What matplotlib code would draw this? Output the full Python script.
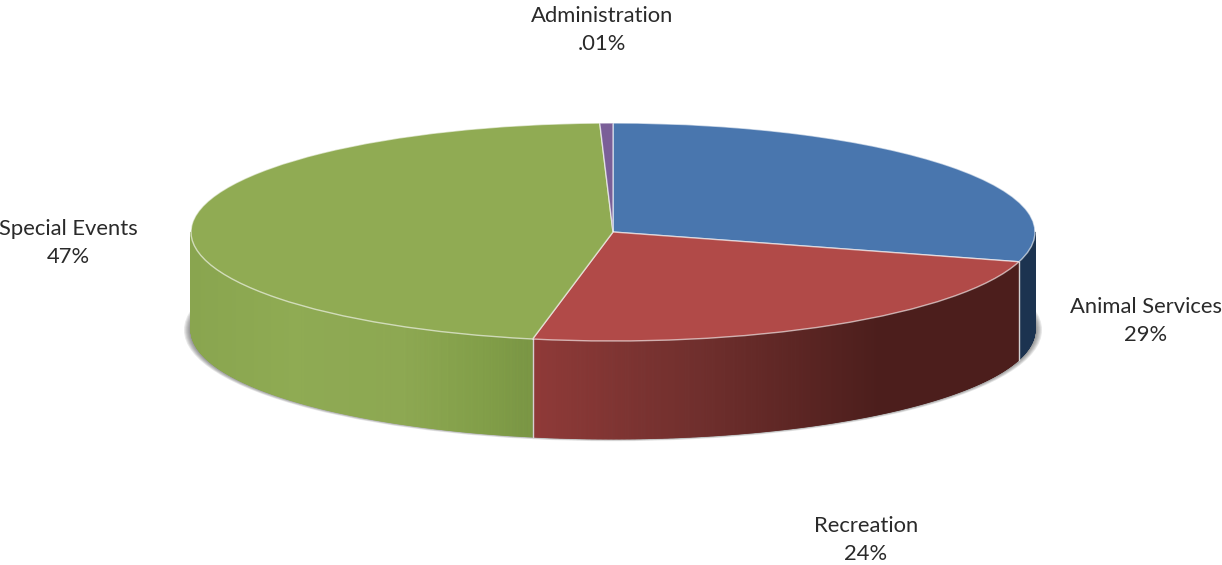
import numpy as np
import matplotlib
matplotlib.use("Agg")
import matplotlib.pyplot as plt
from matplotlib.collections import PolyCollection
from matplotlib.colors import to_rgb
from matplotlib.patches import Ellipse

# Data
categories = ["Animal Services", "Recreation", "Special Events", "Administration"]
slice_values = [29.4, 23.65, 46.45, 0.5]
value_labels = ["29%", "24%", "47%", ".01%"]
top_colors = ["#4976ae", "#b14a48", "#90ab53", "#7a5f98"]

# Side-wall shading stops: position across the pie (-1..1) -> colour
wall_stops = {
    "Animal Services": ([-1, 1], ["#1c3350", "#1c3350"]),
    "Recreation": ([-0.19, 0.2, 0.63, 1], ["#903a38", "#702f2d", "#4c1e1c", "#4c1e1c"]),
    "Special Events": ([-1, -0.75, -0.5, -0.3, -0.19], ["#89a54f", "#8fab53", "#8ea952", "#829f48", "#7a9644"]),
    "Administration": ([-1, 1], ["#5a4672", "#5a4672"]),
}
label_xy = {
    "Animal Services": (1146, 321),
    "Recreation": (866, 540),
    "Special Events": (68, 243),
    "Administration": (602, 30),
}

W, H = 1222, 565
CX, CY, RX, RY = 613, 232, 422, 109
DEPTH = 98 / RY

plt.rcParams["font.family"] = ["Lato", "DejaVu Sans"]
fig = plt.figure(figsize=(W / 100, H / 100), dpi=100, facecolor="white")
ax = fig.add_axes([0, 0, 1, 1])

# Soft shadow under the disc
n_sh = 9
for i in range(n_sh):
    f = i / (n_sh - 1)
    ax.add_patch(Ellipse((0, -DEPTH), 2 * (RX + 7 - 9 * f) / RX, 2 * (RY + 2.2 - 4 * f) / RY,
                         fc="#303030", ec="none", alpha=0.11, zorder=1))

# Top face: real pie, squashed by the non-equal axes aspect
wedges, _ = ax.pie(slice_values, colors=top_colors, startangle=90, counterclock=False,
                   radius=1, center=(0, 0),
                   wedgeprops=dict(edgecolor=(1, 1, 1, 0.6), linewidth=1.0))
for w in wedges:
    w.set_zorder(5)
ax.set_aspect("auto")
ax.set_xlim(-CX / RX, (W - CX) / RX)
ax.set_ylim(-(H - CY) / RY, CY / RY)
ax.axis("off")

# Side wall, one thin strip per step, angles derived from the slice values
fractions = np.array(slice_values) / np.sum(slice_values)
edges = 90 - 360 * np.concatenate([[0], np.cumsum(fractions)])
for name, hi, lo in zip(categories, edges[:-1], edges[1:]):
    s, e = max(lo, -180), min(hi, 0)
    if e <= s:
        continue
    xp, cp = wall_stops[name]
    cp = np.array([to_rgb(c) for c in cp])
    t = np.radians(np.linspace(e, s, max(int((e - s) * 6), 2)))
    polys, cols = [], []
    for t0, t1 in zip(t[:-1], t[1:]):
        x0, x1 = np.cos(t0), np.cos(t1)
        y0, y1 = np.sin(t0), np.sin(t1)
        polys.append([(x0, y0), (x1, y1), (x1, y1 - DEPTH), (x0, y0 - DEPTH)])
        xm = (x0 + x1) / 2
        cols.append([np.interp(xm, xp, cp[:, k]) for k in range(3)])
    ax.add_collection(PolyCollection(polys, facecolors=cols, edgecolors=cols,
                                     linewidths=0.6, zorder=3))
    # light seam at slice boundary
    for a in (hi, lo):
        if -180 < a < 0:
            r = np.radians(a)
            ax.plot([np.cos(r)] * 2, [np.sin(r), np.sin(r) - DEPTH],
                    color="#d8d8d8", lw=0.9, zorder=4, alpha=0.8)

# Labels
for name, val in zip(categories, value_labels):
    px, py = label_xy[name]
    fig.text(px / W, 1 - py / H, f"{name}\n{val}", ha="center", va="center",
             multialignment="center", fontsize=15.8, color="#2a2a2a", linespacing=1.44)

fig.savefig("out.png", dpi=100, facecolor="white")
